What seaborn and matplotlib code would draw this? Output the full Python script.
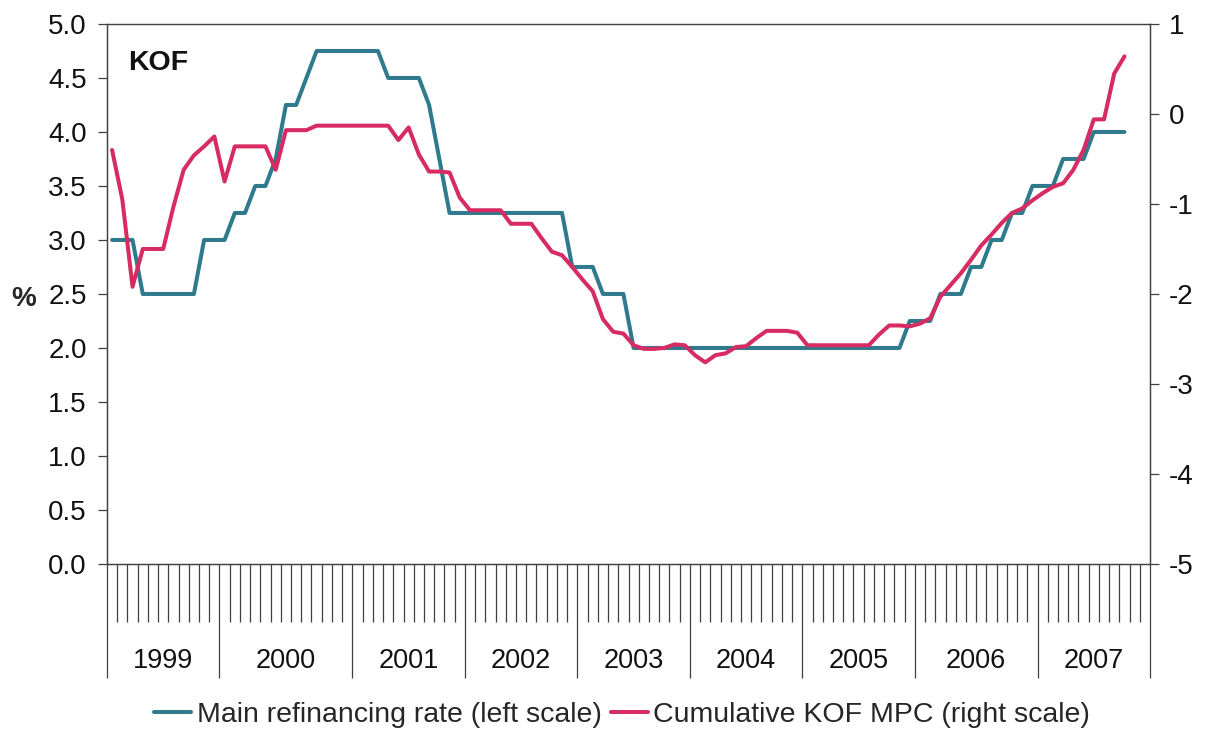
import numpy as np
import pandas as pd
import matplotlib.pyplot as plt
import seaborn as sns

# Year groups on the category axis (number of slots per year, as drawn)
years = ["1999", "2000", "2001", "2002", "2003", "2004", "2005", "2006", "2007"]
year_slots = [11, 13, 11, 11, 11, 11, 11, 12, 11]

# Main refinancing rate (left scale, %)
refi_rate = [
    3.00, 3.00, 3.00, 2.50, 2.50, 2.50, 2.50, 2.50, 2.50, 3.00,
    3.00, 3.00, 3.25, 3.25, 3.50, 3.50, 3.75, 4.25, 4.25, 4.50,
    4.75, 4.75, 4.75, 4.75, 4.75, 4.75, 4.75, 4.50, 4.50, 4.50,
    4.50, 4.25, 3.75, 3.25, 3.25, 3.25, 3.25, 3.25, 3.25, 3.25,
    3.25, 3.25, 3.25, 3.25, 3.25, 2.75, 2.75, 2.75, 2.50, 2.50,
    2.50, 2.00, 2.00, 2.00, 2.00, 2.00, 2.00, 2.00, 2.00, 2.00,
    2.00, 2.00, 2.00, 2.00, 2.00, 2.00, 2.00, 2.00, 2.00, 2.00,
    2.00, 2.00, 2.00, 2.00, 2.00, 2.00, 2.00, 2.00, 2.25, 2.25,
    2.25, 2.50, 2.50, 2.50, 2.75, 2.75, 3.00, 3.00, 3.25, 3.25,
    3.50, 3.50, 3.50, 3.75, 3.75, 3.75, 4.00, 4.00, 4.00, 4.00,
]

# Cumulative KOF MPC (right scale)
kof_mpc = [
    -0.40, -0.95, -1.92, -1.50, -1.50, -1.50, -1.03, -0.62, -0.46, -0.36,
    -0.25, -0.75, -0.36, -0.36, -0.36, -0.36, -0.62, -0.18, -0.18, -0.18,
    -0.13, -0.13, -0.13, -0.13, -0.13, -0.13, -0.13, -0.13, -0.29, -0.15,
    -0.45, -0.64, -0.64, -0.65, -0.93, -1.07, -1.07, -1.07, -1.07, -1.22,
    -1.22, -1.22, -1.38, -1.53, -1.57, -1.70, -1.84, -1.97, -2.28, -2.42,
    -2.44, -2.57, -2.61, -2.61, -2.60, -2.56, -2.57, -2.68, -2.76, -2.68,
    -2.66, -2.59, -2.58, -2.49, -2.41, -2.41, -2.41, -2.43, -2.57, -2.57,
    -2.57, -2.57, -2.57, -2.57, -2.57, -2.45, -2.35, -2.35, -2.36, -2.33,
    -2.27, -2.03, -1.90, -1.77, -1.62, -1.46, -1.34, -1.21, -1.10, -1.05,
    -0.96, -0.88, -0.81, -0.77, -0.62, -0.40, -0.06, -0.06, 0.45, 0.64,
]

df = pd.DataFrame({"slot": np.arange(len(refi_rate)), "refi": refi_rate, "kof": kof_mpc})

sns.set_style("ticks")
plt.rcParams["font.family"] = ["Liberation Sans", "DejaVu Sans"]
plt.rcParams["font.size"] = 20

blue = "#2F7A8C"
pink = "#D62B63"
axis_col = "#404040"

fig = plt.figure(figsize=(12.06, 7.33), dpi=100)
ax = fig.add_axes([0.0887, 0.2306, 0.8649, 0.7367])
ax2 = ax.twinx()

sns.lineplot(data=df, x="slot", y="refi", ax=ax, color=blue, linewidth=2.9,
             label="Main refinancing rate (left scale)", legend=False)
sns.lineplot(data=df, x="slot", y="kof", ax=ax2, color=pink, linewidth=2.9,
             label="Cumulative KOF MPC (right scale)", legend=False)

n_slots = sum(year_slots)
ax.set_xlim(-0.5, n_slots - 0.5)
ax.set_ylim(0, 5)
ax2.set_ylim(-5, 1)

ax.set_yticks(np.arange(0, 5.01, 0.5))
ax.set_yticklabels([f"{v:.1f}" for v in np.arange(0, 5.01, 0.5)])
ax2.set_yticks(range(-5, 2))
ax2.set_yticklabels([str(v) for v in range(-5, 2)])

# category axis: long ticks at year boundaries, shorter ones between slots
edges = np.concatenate([[0], np.cumsum(year_slots)]) - 0.5
ax.set_xticks(edges)
ax.set_xticks([k - 0.5 for k in range(1, n_slots) if (k - 0.5) not in edges], minor=True)
ax.tick_params(axis="x", which="major", length=82, width=0.9, color=axis_col, labelbottom=False)
ax.tick_params(axis="x", which="minor", length=42, width=0.9, color=axis_col)
ax.tick_params(axis="y", length=6.5, width=0.9, color=axis_col, pad=8, labelcolor="#111111")
ax2.tick_params(axis="y", length=6.5, width=0.9, color=axis_col, pad=7, labelcolor="#111111")

centers = (edges[:-1] + edges[1:]) / 2
for c, yr in zip(centers, years):
    ax.text(c, -0.18, yr, transform=ax.get_xaxis_transform(), ha="center", va="center",
            fontsize=19.5, color="#111111")

ax.set_xlabel("")
ax.set_ylabel("%", rotation=0, fontweight="bold", ha="center", va="center")
ax.yaxis.set_label_coords(-0.08, 0.49)
ax2.set_ylabel("")

for a in (ax, ax2):
    for s in a.spines.values():
        s.set_color(axis_col)
        s.set_linewidth(0.9)
ax.spines["top"].set_color("#777777")

ax.text(0.02, 0.928, "KOF", transform=ax.transAxes, fontweight="bold", fontsize=20.5,
        ha="left", va="center", color="#111111")

h1, l1 = ax.get_legend_handles_labels()
h2, l2 = ax2.get_legend_handles_labels()
fig.legend(h1 + h2, l1 + l2, loc="center", bbox_to_anchor=(0.516, 0.025), ncol=2,
           frameon=False, handlelength=1.3, handletextpad=0.2, columnspacing=0.3,
           fontsize=20.5)

fig.savefig("out.png", dpi=100)
